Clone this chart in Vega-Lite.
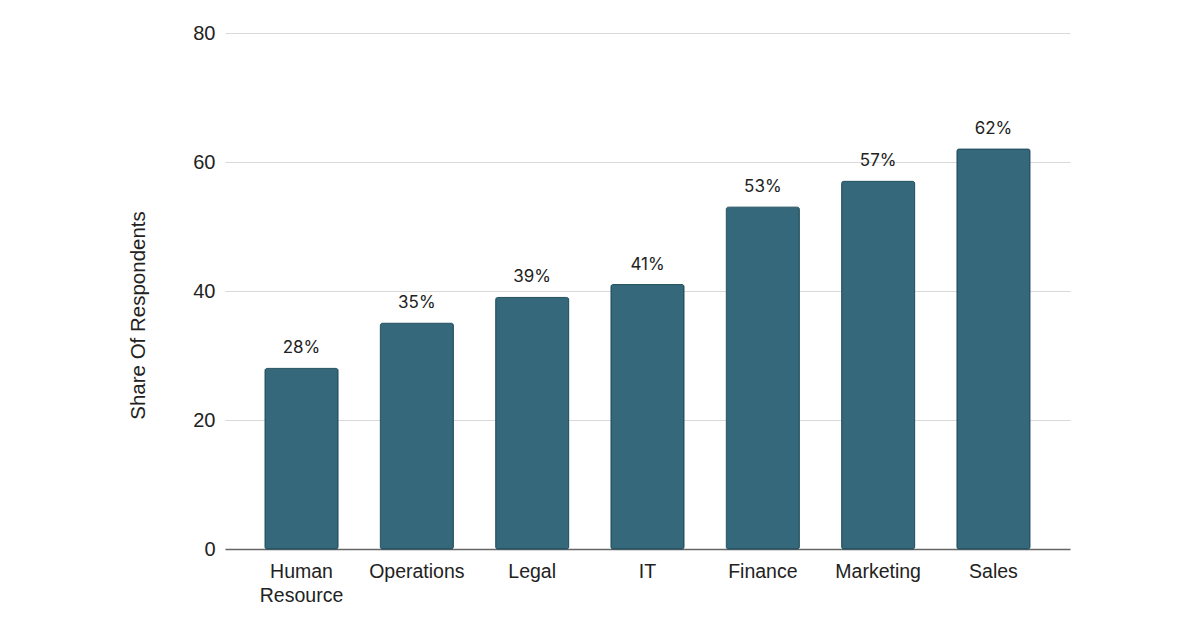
{
  "$schema": "https://vega.github.io/schema/vega-lite/v6.json",
  "autosize": {"type": "none"},
  "width": 845,
  "height": 516,
  "padding": {"left": 225, "top": 33, "right": 130, "bottom": 78},
  "background": "white",
  "data": {"values": [
    {"dept": "Human Resource", "share": 28},
    {"dept": "Operations", "share": 35},
    {"dept": "Legal", "share": 39},
    {"dept": "IT", "share": 41},
    {"dept": "Finance", "share": 53},
    {"dept": "Marketing", "share": 57},
    {"dept": "Sales", "share": 62}
  ]},
  "config": {"view": {"stroke": null}},
  "encoding": {
    "x": {
      "field": "dept", "type": "nominal", "sort": null,
      "scale": {"paddingInner": 0.367, "paddingOuter": 0.347},
      "axis": {
        "title": null, "labelAngle": 0, "labelFont": "Liberation Sans", "labelFontSize": 19.5,
        "labelColor": "#222222", "ticks": false, "domainColor": "#666666", "domainWidth": 1.5,
        "labelPadding": 13,
        "labelExpr": "datum.value == 'Human Resource' ? ['Human', 'Resource'] : datum.value",
        "labelLineHeight": 24
      }
    },
    "y": {
      "field": "share", "type": "quantitative",
      "scale": {"domain": [0, 80]},
      "axis": {
        "title": "Share Of Respondents", "titleFont": "Liberation Sans", "titleFontSize": 20.5,
        "titleFontWeight": "normal", "titleColor": "#222222", "titlePadding": 44,
        "titleY": 282,
        "values": [0, 20, 40, 60, 80], "labelFont": "Liberation Sans", "labelFontSize": 20,
        "labelColor": "#222222", "ticks": false, "domain": false, "labelPadding": 10,
        "gridColor": "#d9d9d9", "gridWidth": 1
      }
    }
  },
  "layer": [
    {
      "mark": {"type": "bar", "color": "#35687a", "stroke": "#22505f", "strokeWidth": 1, "cornerRadius": 2}
    },
    {
      "mark": {"type": "text", "baseline": "bottom", "dy": -11, "font": "Inter", "fontSize": 17, "color": "#222222", "text": {"expr": "datum.share + '%'"}}
    }
  ]
}
